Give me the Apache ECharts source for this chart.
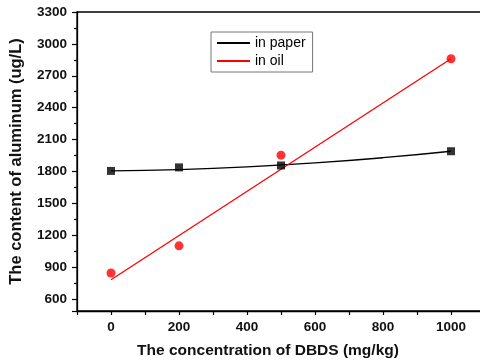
<!DOCTYPE html>
<html><head><meta charset="utf-8">
<script src="https://cdn.jsdelivr.net/npm/echarts@6/dist/echarts.min.js"></script>
<style>html,body{margin:0;padding:0;background:#fff}#c{width:480px;height:364px}</style>
</head><body><div id="c"></div>
<script>
var concX = [0, 200, 500, 1000];
var paperVals = [1805, 1838, 1856, 1990];
var oilVals = [844, 1100, 1953, 2860];
var paperFitX = [0, 200, 400, 600, 800, 1000];
var paperFitY = [1805, 1818, 1843, 1880, 1929, 1990];
var oilFitX = [0, 1000];
var oilFitY = [781, 2860];
var yTickLabels = [600, 900, 1200, 1500, 1800, 2100, 2400, 2700, 3000, 3300];
var xTickLabels = [0, 200, 400, 600, 800, 1000];

function pairs(xs, ys){ return xs.map(function(x,i){return [x, ys[i]];}); }

var chart = echarts.init(document.getElementById('c'));
var font = 'Arial, "Liberation Sans", sans-serif';
chart.setOption({
  animation: false,
  grid: {left: 77, width: 408, top: 12, height: 299, outerBoundsMode: 'none', containLabel: false,
         show: true, borderColor: '#000', borderWidth: 1.3, backgroundColor: 'transparent'},
  legend: {
    left: 211, top: 32, orient: 'vertical', itemGap: 4,
    borderColor: '#777', borderWidth: 1, padding: [4, 7, 4, 6],
    itemWidth: 33, itemHeight: 2, icon: 'rect',
    textStyle: {fontFamily: font, fontSize: 14, color: '#000'},
    data: ['in paper', 'in oil']
  },
  xAxis: {
    type: 'value', min: -100, max: 1100, interval: 100,
    axisLine: {onZero: false, lineStyle: {color: '#000', width: 1.3}},
    axisTick: {inside: false, length: 4, lineStyle: {color: '#000', width: 1.2}},
    splitLine: {show: false},
    axisLabel: {margin: 9, fontFamily: font, fontSize: 13.5, fontWeight: 'bold', color: '#111',
      formatter: function(v){ return xTickLabels.indexOf(v) >= 0 ? String(v) : ''; }},
    name: 'The concentration of DBDS (mg/kg)', nameLocation: 'middle', nameGap: 32,
    nameTextStyle: {fontFamily: font, fontSize: 15.5, fontWeight: 'bold', color: '#111', padding: [0, 26, 0, 0]}
  },
  yAxis: {
    type: 'value', min: 487, max: 3300, splitNumber: 9,
    axisLine: {onZero: false, lineStyle: {color: '#000', width: 1.3}},
    axisTick: {inside: false, length: 5, lineStyle: {color: '#000', width: 1.2}},
    minorTick: {show: true, splitNumber: 2, length: 3, lineStyle: {color: '#000', width: 1.2}},
    splitLine: {show: false},
    axisLabel: {margin: 10, fontFamily: font, fontSize: 13.5, fontWeight: 'bold', color: '#111',
      formatter: function(v){ return yTickLabels.indexOf(v) >= 0 ? String(v) : ''; }},
    name: 'The content of aluminum (ug/L)', nameLocation: 'middle', nameGap: 52, nameRotate: 90,
    nameTextStyle: {fontFamily: font, fontSize: 16.5, fontWeight: 'bold', color: '#111'}
  },
  series: [
    {name: 'in paper', type: 'line', smooth: true, symbol: 'none', data: pairs(paperFitX, paperFitY),
     lineStyle: {color: '#000', width: 1.3}, itemStyle: {color: '#000'}, z: 2},
    {name: 'in oil', type: 'line', symbol: 'none', data: pairs(oilFitX, oilFitY),
     lineStyle: {color: '#ff0000', width: 1.3}, itemStyle: {color: '#ff0000'}, z: 2},
    {name: 'paper pts', type: 'scatter', symbol: 'rect', symbolSize: 8, data: pairs(concX, paperVals),
     itemStyle: {color: '#000'}, z: 3},
    {name: 'oil pts', type: 'scatter', symbol: 'circle', symbolSize: 9, data: pairs(concX, oilVals),
     itemStyle: {color: '#ff0000'}, z: 3}
  ]
});
</script></body></html>
